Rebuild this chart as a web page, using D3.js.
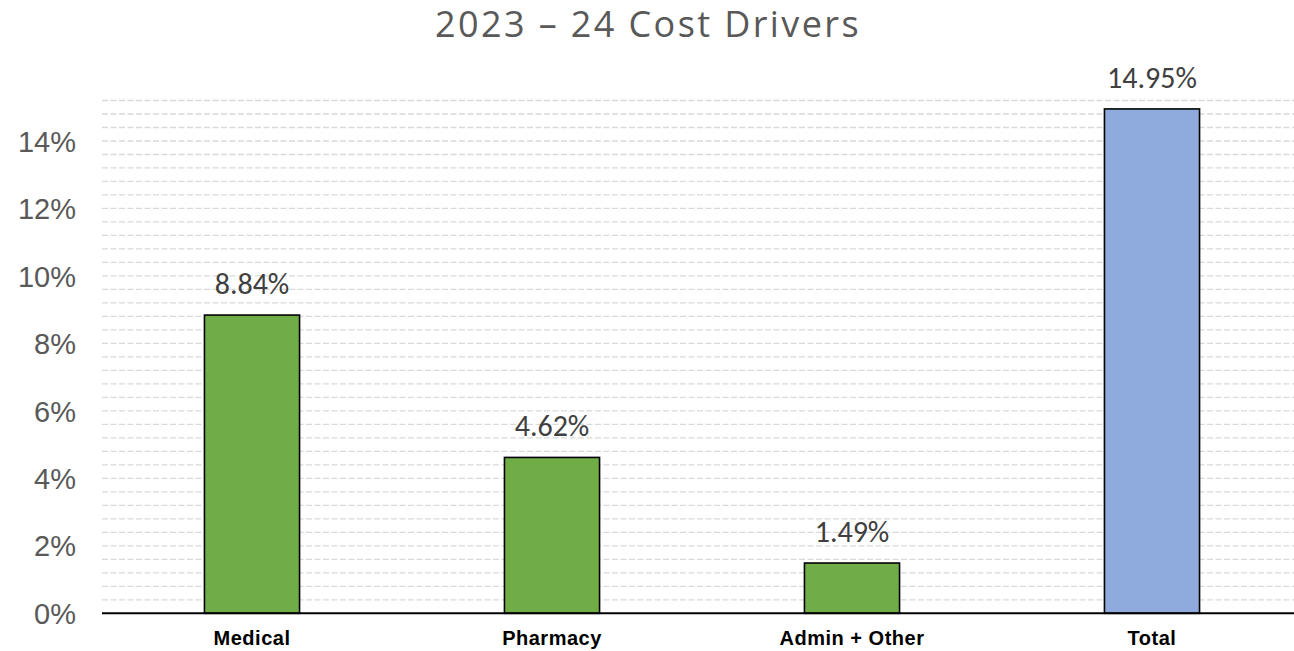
<!DOCTYPE html>
<html>
<head>
<meta charset="utf-8">
<script src="https://cdn.jsdelivr.net/npm/d3@7"></script>
<style>
  html, body { margin: 0; padding: 0; background: #fff; }
  svg { display: block; }
</style>
</head>
<body>
<svg id="chart" width="1294" height="651"></svg>
<script>
const categories = ["Medical", "Pharmacy", "Admin + Other", "Total"];
const values = [8.84, 4.62, 1.49, 14.95];
const valueLabels = ["8.84%", "4.62%", "1.49%", "14.95%"];
const barColors = ["#70AD47", "#70AD47", "#70AD47", "#8FAADC"];
const yTicks = [0, 2, 4, 6, 8, 10, 12, 14];
const yTickLabels = ["0%", "2%", "4%", "6%", "8%", "10%", "12%", "14%"];
const gridValues = d3.range(1, 39).map(i => +(i * 0.4).toFixed(2));
const chartTitle = "2023 – 24 Cost Drivers";

(function () {
const svg = d3.select("#chart");
const plotLeft = 102, plotRight = 1302, plotBase = 613.3, plotTop = 100.5;

const y = d3.scaleLinear().domain([0, 15.2]).range([plotBase, plotTop]);
const x = d3.scaleBand().domain(categories).range([plotLeft, plotRight])
  .paddingInner(0.683).paddingOuter(0.3415);

const calibri = "Carlito, Calibri, Lato, 'Open Sans', sans-serif";
const titleFont = "'Open Sans', sans-serif";
const arial = "'Liberation Sans', Arial, sans-serif";

// title
svg.append("text")
  .attr("x", 648).attr("y", 37)
  .attr("text-anchor", "middle")
  .attr("font-family", titleFont)
  .attr("font-size", 36)
  .attr("letter-spacing", "2.4px")
  .attr("fill", "#595959")
  .text(chartTitle);

// gridlines (dashed)
svg.append("g").selectAll("line")
  .data(gridValues)
  .join("line")
  .attr("x1", plotLeft).attr("x2", 1294)
  .attr("y1", d => y(d)).attr("y2", d => y(d))
  .attr("stroke", "#d9d9d9")
  .attr("stroke-width", 1.3)
  .attr("stroke-dasharray", "6,2.5");

// y axis labels
const yAxis = d3.axisLeft(y).tickValues(yTicks)
  .tickFormat((d, i) => yTickLabels[i]).tickSize(0).tickPadding(0);
const yg = svg.append("g").attr("transform", "translate(76,0)").call(yAxis);
yg.select(".domain").remove();
yg.selectAll("text")
  .attr("font-family", arial)
  .attr("font-size", 29)
  .attr("fill", "#595959")
  .attr("dy", "0.35em");

// bars
svg.append("g").selectAll("rect")
  .data(values)
  .join("rect")
  .attr("x", (d, i) => x(categories[i]))
  .attr("width", x.bandwidth())
  .attr("y", d => y(d))
  .attr("height", d => plotBase - y(d))
  .attr("fill", (d, i) => barColors[i])
  .attr("stroke", "#000")
  .attr("stroke-width", 1.6);

// baseline axis
const xAxis = d3.axisBottom(x).tickSize(0).tickPadding(0);
const xg = svg.append("g").attr("transform", `translate(0,${plotBase})`).call(xAxis);
xg.select(".domain").attr("d", `M${plotLeft},0H1294`).attr("stroke", "#000").attr("stroke-width", 2);
xg.selectAll("text")
  .attr("y", 32)
  .attr("dy", 0)
  .attr("font-family", arial)
  .attr("font-weight", "bold")
  .attr("font-size", 20)
  .attr("letter-spacing", "0.5px")
  .attr("fill", "#000");

// data labels
svg.append("g").selectAll("text")
  .data(values)
  .join("text")
  .attr("x", (d, i) => x(categories[i]) + x.bandwidth() / 2)
  .attr("y", d => y(d) - 21)
  .attr("text-anchor", "middle")
  .attr("font-family", calibri)
  .attr("font-size", 30)
  .attr("fill", "#404040")
  .text((d, i) => valueLabels[i]);
})();
</script>
</body>
</html>
